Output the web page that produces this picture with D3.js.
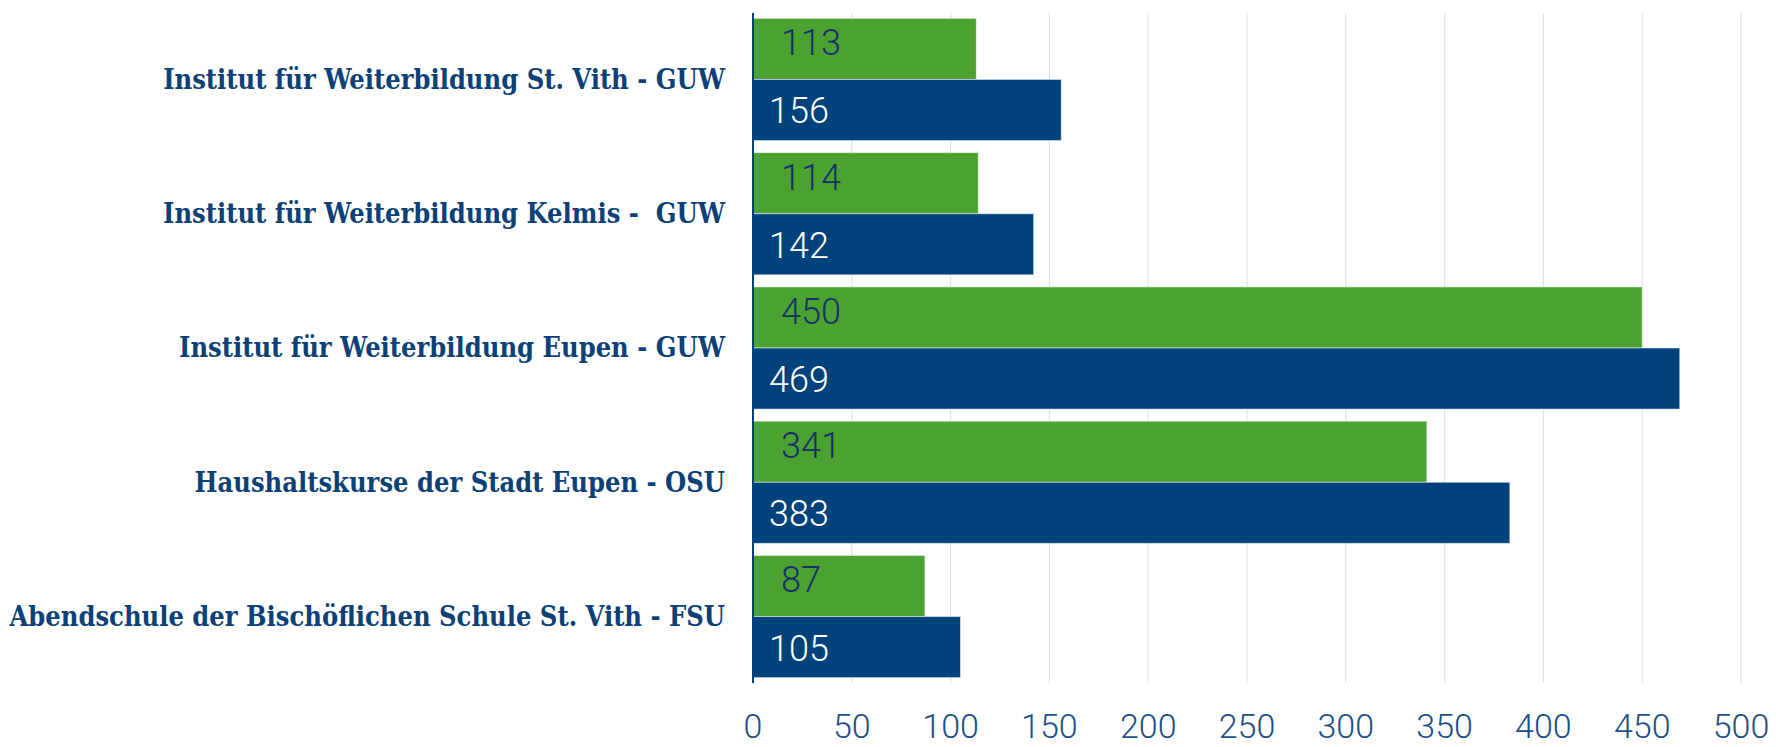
<!DOCTYPE html>
<html>
<head>
<meta charset="utf-8">
<script src="https://cdn.jsdelivr.net/npm/d3@7"></script>
<style>
	body { margin: 0; background: #ffffff; }
	.catLabel { font-family: "DejaVu Serif Condensed", "DejaVu Serif", serif; font-weight: bold; font-size: 27px; fill: #0c4177; white-space: pre; }
	.valueLabel { font-family: Roboto, "DejaVu Sans Condensed", sans-serif; font-weight: 300; font-size: 36px; }
	.tickLabel { font-family: Roboto, "DejaVu Sans Condensed", sans-serif; font-weight: 300; font-size: 34px; fill: #1c4f86; }
</style>
</head>
<body>
<svg id="chart" width="1776" height="747"></svg>
<script>

var categories = [
	"Institut für Weiterbildung St. Vith - GUW",
	"Institut für Weiterbildung Kelmis -  GUW",
	"Institut für Weiterbildung Eupen - GUW",
	"Haushaltskurse der Stadt Eupen - OSU",
	"Abendschule der Bischöflichen Schule St. Vith - FSU"
];
var greenValues = [113, 114, 450, 341, 87];
var blueValues = [156, 142, 469, 383, 105];
var xTicks = [0, 50, 100, 150, 200, 250, 300, 350, 400, 450, 500];

var GREEN = "#4ba22f";
var BLUE = "#00427b";

var PLOT_LEFT = 753;
var PLOT_RIGHT = 1741;
var PLOT_TOP = 13;
var PLOT_BOTTOM = 683;

var svg = d3.select("#chart");

var x = d3.scaleLinear()
	.domain([0, 500])
	.range([PLOT_LEFT, PLOT_RIGHT]);

var y = d3.scaleBand()
	.domain(categories)
	.range([PLOT_TOP, PLOT_BOTTOM])
	.paddingInner(0.09)
	.paddingOuter(0.04);

var sub = d3.scaleBand()
	.domain(["green", "blue"])
	.range([0, y.bandwidth()]);

//gridlines
svg.append("g")
	.selectAll("line")
	.data(xTicks.slice(1))
	.enter()
	.append("line")
	.attr("x1", function(d) { return x(d); })
	.attr("x2", function(d) { return x(d); })
	.attr("y1", PLOT_TOP)
	.attr("y2", PLOT_BOTTOM)
	.attr("stroke", "#e2e2e2")
	.attr("stroke-width", 1.2);

//bars, one group per category
var rows = svg.append("g")
	.selectAll(".row")
	.data(categories)
	.enter()
	.append("g")
	.attr("class", "row")
	.attr("transform", function(d) { return "translate(0," + y(d) + ")"; })
	.each(function(d, i) {
		var g = d3.select(this);
		var bars = [
			{key: "green", value: greenValues[i], fill: GREEN, text: "#17306b", dx: 28, dy: 37},
			{key: "blue", value: blueValues[i], fill: BLUE, text: "#ffffff", dx: 16, dy: 44}
		];
		bars.forEach(function(b) {
			g.append("rect")
				.attr("x", x(0))
				.attr("y", sub(b.key))
				.attr("width", x(b.value) - x(0))
				.attr("height", sub.bandwidth())
				.attr("fill", b.fill)
				.attr("stroke", "#ffffff")
				.attr("stroke-opacity", 0.5)
				.attr("stroke-width", 1);
			g.append("text")
				.attr("class", "valueLabel")
				.attr("x", x(0) + b.dx)
				.attr("y", sub(b.key) + b.dy)
				.attr("fill", b.text)
				.text(b.value);
		});
		g.append("text")
			.attr("class", "catLabel")
			.attr("x", 725)
			.attr("y", y.bandwidth() / 2)
			.attr("dy", "0.35em")
			.attr("text-anchor", "end")
			.text(d);
	});

//axis line
svg.append("line")
	.attr("x1", PLOT_LEFT)
	.attr("x2", PLOT_LEFT)
	.attr("y1", PLOT_TOP)
	.attr("y2", PLOT_BOTTOM)
	.attr("stroke", BLUE)
	.attr("stroke-width", 2);

//tick labels
svg.append("g")
	.selectAll("text")
	.data(xTicks)
	.enter()
	.append("text")
	.attr("class", "tickLabel")
	.attr("x", function(d) { return x(d); })
	.attr("y", 737.5)
	.attr("text-anchor", "middle")
	.text(function(d) { return d; });

</script>
</body>
</html>
